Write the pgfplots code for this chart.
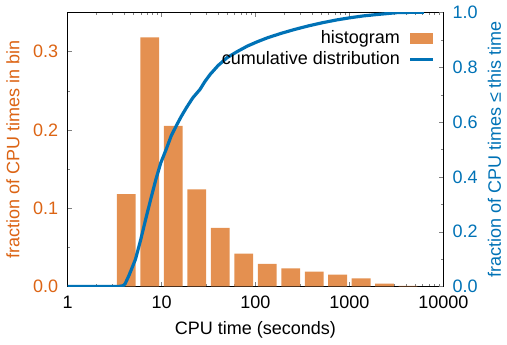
\documentclass[border=0pt]{standalone}
\usepackage{pgfplots}
\pgfplotsset{compat=1.18}
\usepackage{fontspec}
\setmainfont{Liberation Sans}
\definecolor{barorange}{RGB}{228,144,80}
\definecolor{txtorange}{RGB}{220,100,20}
\definecolor{lineblue}{RGB}{0,114,182}
\begin{document}
\fontsize{17}{20}\selectfont
\begin{tikzpicture}
\begin{axis}[
  scale only axis, width=355pt, height=259pt,
  xmode=log, xmin=1, xmax=10000,
  ymin=0, ymax=0.35,
  xtick={1,10,100,1000,10000},
  xticklabels={1,10,100,1000,10000},
  ytick={0,0.1,0.2,0.3},
  minor ytick={0.05,0.15,0.25},
  ytick pos=left,
  tick align=inside,
  major tick length=4pt, minor tick length=2.5pt,
  /pgf/number format/assume math mode=true,
  yticklabel style={color=txtorange, xshift=-3pt, /pgf/number format/.cd, fixed, fixed zerofill, precision=1},
  xticklabel style={yshift=-3pt},
  xlabel={CPU time (seconds)},
  ylabel={fraction of CPU times in bin},
  ylabel style={color=txtorange, inner ysep=6pt, yshift=1pt},
  xlabel style={yshift=-1pt},
  axis line style={black},
]
\addplot[ybar interval, /pgf/bar interval width=0.8, /pgf/bar interval shift=0.5, fill=barorange, draw=none] coordinates {
(3.1623,0.118) (5.6234,0.318) (10,0.205) (17.783,0.124) (31.623,0.075)
(56.234,0.042) (100,0.029) (177.83,0.023) (316.23,0.019) (562.34,0.015)
(1000,0.0105) (1778.3,0.0038) (3162.3,0.0008) (5623.4,0.0008)
};
\end{axis}
\begin{axis}[
  scale only axis, width=355pt, height=259pt,
  xmode=log, xmin=1, xmax=10000,
  ymin=0, ymax=1,
  axis x line=none,
  axis y line*=right,
  tick align=inside,
  major tick length=4pt, minor tick length=2.5pt,
  ytick={0,0.2,0.4,0.6,0.8,1.0},
  minor ytick={0.1,0.3,0.5,0.7,0.9},
  /pgf/number format/assume math mode=true,
  yticklabel style={color=lineblue, xshift=3pt, /pgf/number format/.cd, fixed, fixed zerofill, precision=1},
  ylabel={fraction of CPU times ≤ this time},
  ylabel style={color=lineblue, yshift=2pt},
  legend plot pos=right,
  legend cell align=right,
  legend style={at={(0.985,0.95)}, anchor=north east, draw=none, fill=none, row sep=1pt},
]
\addlegendimage{area legend, fill=barorange, draw=none, legend image code/.code={\path[draw=none,fill=none] (0pt,-5pt) -- (0pt,5pt); \fill[barorange] (8pt,-5pt) rectangle (29pt,5pt);}}
\addlegendentry{histogram}
\addplot[lineblue, line width=3pt, line join=round, legend image code/.code={\path[draw=none,fill=none] (0pt,-5pt) -- (0pt,5pt); \draw[lineblue, line width=3pt] (8pt,0pt) -- (29pt,0pt);}] coordinates {
(1,0) (3.5,0) (3.9,0.003) (4.1,0.01) (4.5,0.04) (5.28,0.099) (6.0,0.17) (6.78,0.245)
(7.7,0.32) (8.7,0.39) (9.8,0.45) (11.2,0.5) (12.7,0.55) (14.3,0.585) (16.2,0.62)
(18.4,0.652) (21.5,0.688) (25.7,0.719) (29,0.748) (33,0.774) (40,0.806) (50,0.835)
(64,0.857) (82,0.877) (105,0.893) (136,0.908) (190,0.924) (263,0.938) (370,0.951)
(513,0.962) (720,0.972) (1000,0.98) (1400,0.987) (1950,0.992) (2600,0.996)
(3200,0.999) (4500,1.0) (6200,1.0)
};
\addlegendentry{cumulative distribution}
\end{axis}
\end{tikzpicture}
\end{document}
